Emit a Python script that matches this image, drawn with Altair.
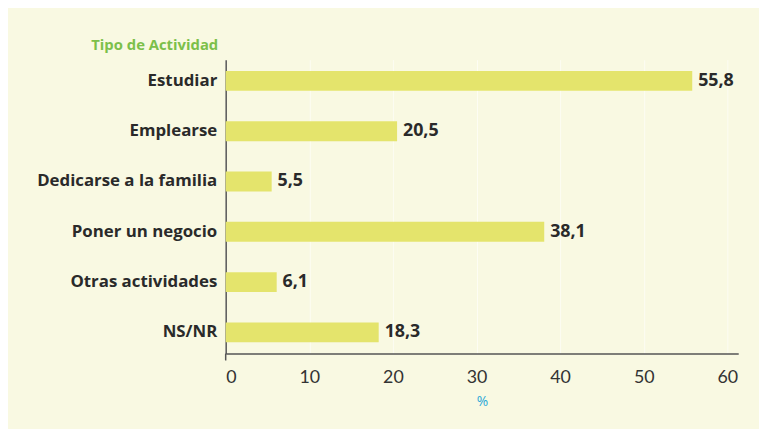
import altair as alt
import pandas as pd

categories = ["Estudiar", "Emplearse", "Dedicarse a la familia", "Poner un negocio", "Otras actividades", "NS/NR"]
values = [55.8, 20.5, 5.5, 38.1, 6.1, 18.3]
value_labels = ["55,8", "20,5", "5,5", "38,1", "6,1", "18,3"]
x_ticks = [0, 10, 20, 30, 40, 50, 60]

df = pd.DataFrame({"cat": categories, "val": values, "lab": value_labels})

H = 297

x = alt.X("val:Q", scale=alt.Scale(domain=[0, 61.3], nice=False),
          axis=alt.Axis(values=x_ticks, title="%", grid=True, gridColor="#ffffff", gridOpacity=0.6,
                        domainColor="#555555", domainWidth=1.5, ticks=False,
                        labelFont="Lato", labelFontSize=18, labelColor="#333333", labelPadding=15,
                        titleFont="Open Sans", titleFontSize=14, titleColor="#2aa8d8", titleFontWeight="normal",
                        titlePadding=9))
y = alt.Y("cat:N", sort=categories, scale=alt.Scale(paddingInner=0.606, paddingOuter=0.226),
          axis=alt.Axis(title="Tipo de Actividad", titleAngle=0, titleAlign="right", titleX=-8, titleY=-7,
                        titleFont="Open Sans", titleFontSize=15, titleColor="#7cc04a", titleFontWeight="bold",
                        titleBaseline="bottom",
                        domainColor="#555555", domainWidth=1.5, ticks=False,
                        labelFont="Open Sans", labelFontSize=17, labelFontWeight="bold", labelColor="#2a2a2a",
                        labelPadding=9, labelLimit=400))

bars = alt.Chart(df).mark_bar(color="#e4e46c").encode(x=x, y=y)
texts = alt.Chart(df).mark_text(align="left", dx=6, font="Open Sans", fontSize=18, fontWeight="bold",
                                color="#2a2a2a").encode(x="val:Q", y=alt.Y("cat:N", sort=categories), text="lab:N")
tick0 = alt.Chart(pd.DataFrame({"v": [0]})).mark_rule(color="#555555", strokeWidth=1.5).encode(
    x="v:Q", y=alt.value(H), y2=alt.value(H + 7))

chart = (bars + texts + tick0).properties(
    width=518, height=H,
    autosize=alt.AutoSizeParams(type="none"),
    padding={"left": 220, "top": 50, "right": 21, "bottom": 74},
    background="#f9f9e2",
).configure_view(stroke=None)

chart.save("out.html", embed_options={"renderer": "svg", "actions": False})
